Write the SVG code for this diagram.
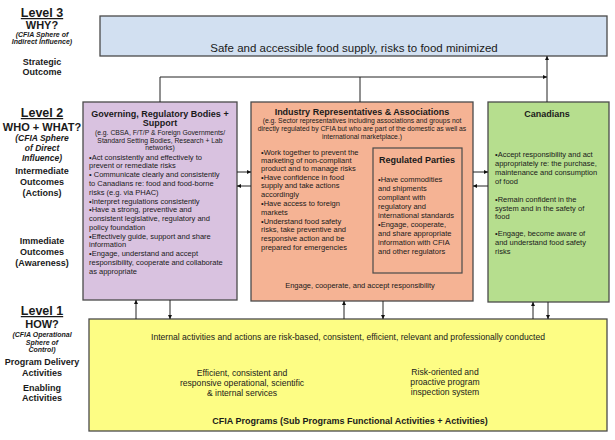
<svg xmlns="http://www.w3.org/2000/svg" width="615" height="440" viewBox="0 0 615 440">
<defs>
<style>
text{font-family:"Liberation Sans",Arial,sans-serif;fill:#1a1a1a}
.lv{font-size:12.5px;font-weight:bold;text-anchor:middle;text-decoration:underline}
.q{font-size:11px;font-weight:bold;text-anchor:middle}
.it{font-size:7px;font-weight:bold;font-style:italic;text-anchor:middle}
.it2{font-size:8.5px;font-weight:bold;font-style:italic;text-anchor:middle}
.lb{font-size:9px;font-weight:bold;text-anchor:middle}
.box{stroke:#4a4a4a;stroke-width:1.3}
.ttl{font-size:9px;font-weight:bold;text-anchor:middle}
.sm{font-size:6.8px;text-anchor:middle}
.bt{font-size:7.5px}
.yt{font-size:8.6px;text-anchor:middle}
.c{text-anchor:middle}
.con{fill:none;stroke:#222;stroke-width:1}
</style>
<marker id="ah" viewBox="0 0 6 6" refX="6" refY="3" markerWidth="4" markerHeight="4" orient="auto" markerUnits="userSpaceOnUse">
<path d="M0,0 L6,3 L0,6 Z" fill="#111"/>
</marker>
</defs>
<rect width="615" height="440" fill="#fff"/>

<g id="levels">
<text class="lv" x="42" y="17">Level 3</text>
<text class="q" x="42" y="29">WHY?</text>
<text class="it" x="42" y="37">(CFIA Sphere of</text>
<text class="it" x="42" y="44">Indirect Influence)</text>
<text class="lb" x="42" y="65">Strategic</text>
<text class="lb" x="42" y="75">Outcome</text>
<text class="lv" x="42" y="117">Level 2</text>
<text class="q" x="42" y="131">WHO + WHAT?</text>
<text class="it2" x="42" y="141">(CFIA  Sphere</text>
<text class="it2" x="42" y="151">of Direct</text>
<text class="it2" x="42" y="161">Influence)</text>
<text class="lb" x="42" y="174">Intermediate</text>
<text class="lb" x="42" y="185">Outcomes</text>
<text class="lb" x="42" y="196">(Actions)</text>
<text class="lb" x="42" y="244">Immediate</text>
<text class="lb" x="42" y="255">Outcomes</text>
<text class="lb" x="42" y="266">(Awareness)</text>
<text class="lv" x="42" y="315">Level 1</text>
<text class="q" x="42" y="328" font-size="10.5">HOW?</text>
<text class="it" x="42" y="337">(CFIA Operational</text>
<text class="it" x="42" y="345">Sphere of</text>
<text class="it" x="42" y="352">Control)</text>
<text class="lb" x="42" y="365">Program Delivery</text>
<text class="lb" x="42" y="376">Activities</text>
<text class="lb" x="42" y="391">Enabling</text>
<text class="lb" x="42" y="401">Activities</text>
</g>

<g id="strategic">
<rect class="box" x="100" y="16" width="507" height="40" fill="#d2e0f1"/>
<text x="354" y="52" class="c" font-size="11.5">Safe and accessible food supply, risks to food minimized</text>
</g>

<g id="governing">
<rect class="box" x="83" y="102" width="154" height="198" fill="#d9c2e0"/>
<text class="ttl" x="160" y="117">Governing, Regulatory Bodies +</text>
<text class="ttl" x="160" y="126">Support</text>
<text class="sm" x="160" y="135">(e.g. CBSA, F/T/P &amp; Foreign Governments/</text>
<text class="sm" x="160" y="143">Standard Setting Bodies, Research + Lab</text>
<text class="sm" x="160" y="150">networks)</text>
<g class="bt">
<text x="89" y="160">•Act consistently and effectively to</text>
<text x="89" y="168">prevent or remediate risks</text>
<text x="89" y="177">• Communicate clearly and consistently</text>
<text x="89" y="186">to Canadians re: food and food-borne</text>
<text x="89" y="195">risks (e.g. via PHAC)</text>
<text x="89" y="204">•Interpret regulations consistently</text>
<text x="89" y="212">•Have a strong, preventive and</text>
<text x="89" y="221">consistent legislative, regulatory and</text>
<text x="89" y="230">policy foundation</text>
<text x="89" y="239">•Effectively guide, support and share</text>
<text x="89" y="247">information</text>
<text x="89" y="256">•Engage, understand and accept</text>
<text x="89" y="265">responsibility, cooperate and collaborate</text>
<text x="89" y="274">as appropriate</text>
</g>
</g>

<g id="industry">
<rect class="box" x="251" y="102" width="222" height="199" fill="#f5b394"/>
<text class="ttl" x="362" y="115">Industry Representatives &amp; Associations</text>
<text class="sm" x="362" y="123">(e.g. Sector representatives including associations and groups not</text>
<text class="sm" x="362" y="131">directly regulated by CFIA but who are part of the domestic as well as</text>
<text class="sm" x="362" y="139">international marketplace.)</text>
<g class="bt">
<text x="261" y="155">•Work together to prevent the</text>
<text x="261" y="163">marketing of non-compliant</text>
<text x="261" y="171">product and to manage risks</text>
<text x="261" y="180">•Have confidence in food</text>
<text x="261" y="188">supply and take actions</text>
<text x="261" y="197">accordingly</text>
<text x="261" y="206">•Have access to foreign</text>
<text x="261" y="215">markets</text>
<text x="261" y="224">•Understand food safety</text>
<text x="261" y="232">risks, take preventive and</text>
<text x="261" y="241">responsive action and be</text>
<text x="261" y="250">prepared for emergencies</text>
</g>
<text class="bt c" x="360" y="288">Engage, cooperate, and accept responsibility</text>
</g>

<g id="regulated">
<rect x="373" y="148" width="89" height="125" fill="none" stroke="#4a4a4a" stroke-width="1.2"/>
<text class="ttl" x="417" y="163">Regulated Parties</text>
<g class="bt">
<text x="378" y="182">•Have commodities</text>
<text x="378" y="191">and shipments</text>
<text x="378" y="200">compliant with</text>
<text x="378" y="209">regulatory and</text>
<text x="378" y="218">international standards</text>
<text x="378" y="227">•Engage, cooperate,</text>
<text x="378" y="236">and share appropriate</text>
<text x="378" y="245">information with CFIA</text>
<text x="378" y="254">and other regulators</text>
</g>
</g>

<g id="canadians">
<rect class="box" x="488" y="102" width="121" height="200" fill="#b6de8e"/>
<text class="ttl" x="547" y="117">Canadians</text>
<g class="bt">
<text x="495" y="157">•Accept responsibility and act</text>
<text x="495" y="166">appropriately re: the purchase,</text>
<text x="495" y="175">maintenance and consumption</text>
<text x="495" y="184">of food</text>
<text x="495" y="202">•Remain confident in the</text>
<text x="495" y="211">system and in the safety of</text>
<text x="495" y="219">food</text>
<text x="495" y="236">•Engage, become aware of</text>
<text x="495" y="245">and understand food safety</text>
<text x="495" y="254">risks</text>
</g>
</g>

<g id="programs">
<rect class="box" x="89" y="319" width="518" height="112" fill="#fdfd84"/>
<text class="yt" x="348" y="340">Internal activities and actions are risk-based, consistent, efficient, relevant and professionally conducted</text>
<text class="yt" x="242" y="376">Efficient, consistent and</text>
<text class="yt" x="242" y="386">responsive operational, scientific</text>
<text class="yt" x="242" y="396">&amp; internal services</text>
<text class="yt" x="445" y="375">Risk-oriented and</text>
<text class="yt" x="445" y="385">proactive program</text>
<text class="yt" x="445" y="395">inspection system</text>
<text class="ttl" x="350" y="424" font-size="9.7">CFIA Programs (Sub Programs Functional Activities + Activities)</text>
</g>

<g id="connectors">
<path class="con" d="M160,102 V77 H547" marker-end="url(#ah)"/>
<path class="con" d="M360,102 V77"/>
<path class="con" d="M547,102 V56" marker-end="url(#ah)"/>
<path class="con" d="M237,172 H251" marker-end="url(#ah)"/>
<path class="con" d="M251,186 H237" marker-end="url(#ah)"/>
<path class="con" d="M473,172 H488" marker-end="url(#ah)"/>
<path class="con" d="M488,186 H473" marker-end="url(#ah)"/>
<path class="con" d="M136,319 V300" marker-end="url(#ah)"/>
<path class="con" d="M170,300 V319" marker-end="url(#ah)"/>
<path class="con" d="M344,319 V301" marker-end="url(#ah)"/>
<path class="con" d="M383,301 V319" marker-end="url(#ah)"/>
<path class="con" d="M533,319 V302" marker-end="url(#ah)"/>
<path class="con" d="M548,302 V319" marker-end="url(#ah)"/>
</g>
</svg>
